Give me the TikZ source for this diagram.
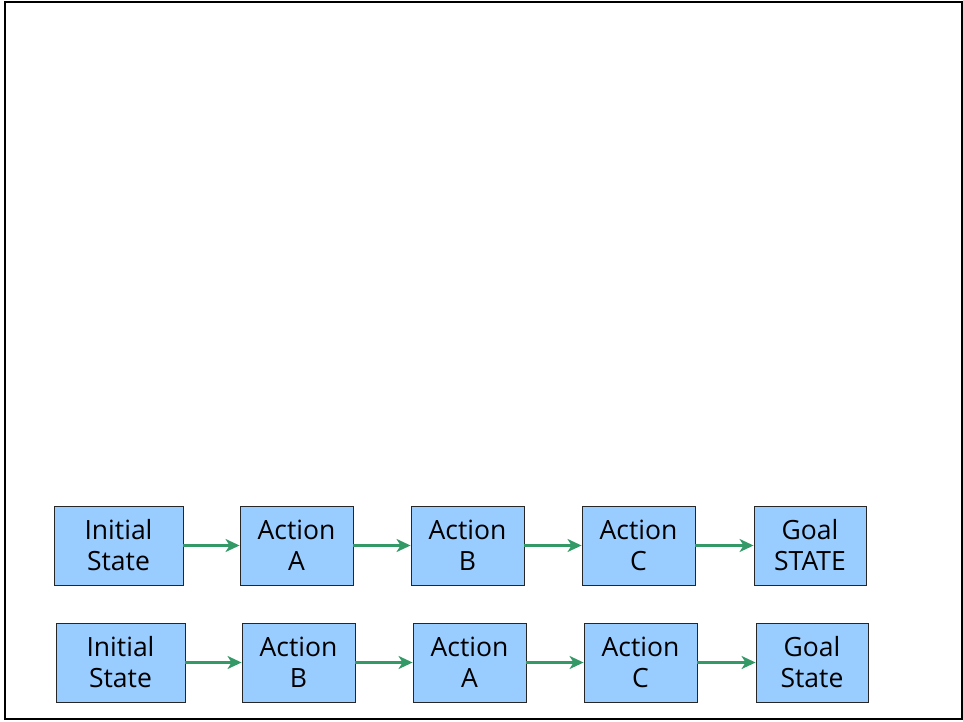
\documentclass[tikz,border=0pt]{standalone}
\usepackage{fontspec}
\setmainfont{Open Sans}
\usetikzlibrary{arrows.meta}
\definecolor{boxblue}{HTML}{99CCFF}
\definecolor{flowgreen}{HTML}{339966}
\begin{document}
\begin{tikzpicture}[x=1pt,y=1pt,
  stepbox/.style={draw=black!85, line width=0.9pt, fill=boxblue, minimum height=79pt,
    align=center, inner sep=0pt, font=\fontsize{26.5}{31}\selectfont},
  flow/.style={draw=flowgreen, line width=2.2pt, -{Stealth[length=14pt,width=13pt,inset=4pt]}}]
\useasboundingbox (0,0) rectangle (963,721);
\draw[line width=2pt] (5,2) rectangle (962,719);
% first sequence
\node[stepbox, minimum width=129pt] (i1) at (118.5,175.5) {Initial\\State};
\node[stepbox, minimum width=113pt] (a1) at (296.5,175.5) {Action\\A};
\node[stepbox, minimum width=113pt] (b1) at (467.5,175.5) {Action\\B};
\node[stepbox, minimum width=113pt] (c1) at (638.5,175.5) {Action\\C};
\node[stepbox, minimum width=112pt] (g1) at (810,175.5) {Goal\\STATE};
\draw[flow] (i1) -- (a1);
\draw[flow] (a1) -- (b1);
\draw[flow] (b1) -- (c1);
\draw[flow] (c1) -- (g1);
% second sequence
\node[stepbox, minimum width=129pt] (i2) at (120.5,58.5) {Initial\\State};
\node[stepbox, minimum width=113pt] (b2) at (298.5,58.5) {Action\\B};
\node[stepbox, minimum width=113pt] (a2) at (469.5,58.5) {Action\\A};
\node[stepbox, minimum width=113pt] (c2) at (640.5,58.5) {Action\\C};
\node[stepbox, minimum width=112pt] (g2) at (812,58.5) {Goal\\State};
\draw[flow] (i2) -- (b2);
\draw[flow] (b2) -- (a2);
\draw[flow] (a2) -- (c2);
\draw[flow] (c2) -- (g2);
\end{tikzpicture}
\end{document}
